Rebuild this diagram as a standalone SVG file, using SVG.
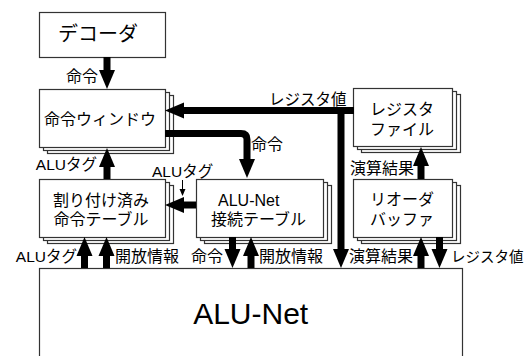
<svg xmlns="http://www.w3.org/2000/svg" width="524" height="356" viewBox="0 0 524 356">
<defs>
<marker id="ah" markerUnits="userSpaceOnUse" markerWidth="20" markerHeight="16" refX="0" refY="8" orient="auto" overflow="visible">
<path d="M0,0 L19,8 L0,16 z" fill="#000"/>
</marker>
<marker id="ahs" markerUnits="userSpaceOnUse" markerWidth="8" markerHeight="8" refX="0" refY="3" orient="auto" overflow="visible">
<path d="M0,0 L7,3 L0,6 z" fill="#000"/>
</marker>
</defs>
<style>
text{font-family:"Liberation Sans","Noto Sans CJK JP",sans-serif;fill:#000}
.box{fill:#fff;stroke:#333;stroke-width:1.2}
.bt{font-size:16px;text-anchor:middle}
.lb{font-size:16px}
.la{font-size:15.5px}
.c{fill:none;stroke:#000;stroke-width:7}
.ca{fill:none;stroke:#000;stroke-width:7;marker-end:url(#ah)}
</style>
<rect width="524" height="356" fill="#fff"/>

<g id="decoder">
<rect class="box" x="39.5" y="12.5" width="126" height="45"/>
<text x="98" y="41" style="font-size:20px;text-anchor:middle">デコーダ</text>
</g>

<g id="cmdwindow">
<rect class="box" x="47.5" y="95.5" width="126" height="58"/>
<rect class="box" x="43.5" y="92.5" width="126" height="58"/>
<rect class="box" x="39.5" y="89.5" width="126" height="58"/>
<text class="bt" x="100" y="124.5">命令ウィンドウ</text>
</g>

<g id="regfile">
<rect class="box" x="361.5" y="94.5" width="99" height="58"/>
<rect class="box" x="357.5" y="91.5" width="99" height="58"/>
<rect class="box" x="353.5" y="88.5" width="99" height="58"/>
<text class="bt" x="402" y="114.5">レジスタ</text>
<text class="bt" x="402" y="134.5">ファイル</text>
</g>

<g id="alloctable">
<rect class="box" x="47.5" y="185.5" width="126" height="58"/>
<rect class="box" x="43.5" y="182.5" width="126" height="58"/>
<rect class="box" x="39.5" y="179.5" width="126" height="58"/>
<text class="bt" x="101" y="205.5">割り付け済み</text>
<text class="bt" x="101" y="224.5">命令テーブル</text>
</g>

<g id="alunettable">
<rect class="box" x="204.5" y="185.5" width="127" height="58"/>
<rect class="box" x="200.5" y="182.5" width="127" height="58"/>
<rect class="box" x="196.5" y="179.5" width="127" height="58"/>
<text x="218" y="205.5" style="font-size:16px">ALU-Net</text>
<text class="bt" x="258.5" y="224.5">接続テーブル</text>
</g>

<g id="reorder">
<rect class="box" x="361.5" y="185.5" width="99" height="58"/>
<rect class="box" x="357.5" y="182.5" width="99" height="58"/>
<rect class="box" x="353.5" y="179.5" width="99" height="58"/>
<text class="bt" x="402" y="204.5">リオーダ</text>
<text class="bt" x="402" y="224.5">バッファ</text>
</g>

<g id="alunet">
<rect class="box" x="39.5" y="268.5" width="423" height="100"/>
<text x="250.7" y="323.5" style="font-size:30px;text-anchor:middle">ALU-Net</text>
</g>

<g id="connectors">
<line class="ca" x1="107" y1="57" x2="107" y2="70"/>
<path class="ca" d="M354,110.5 H184"/>
<path class="ca" d="M341,107 V249"/>
<path class="ca" d="M165,133.5 H241 Q247,133.5 247,139.5 V159" stroke-linejoin="round"/>
<line class="ca" x1="107" y1="179" x2="107" y2="167"/>
<line class="ca" x1="196" y1="205" x2="184" y2="205"/>
<line x1="182.5" y1="180" x2="182.5" y2="189" stroke="#000" stroke-width="1" marker-end="url(#ahs)"/>
<line class="ca" x1="84.5" y1="268" x2="84.5" y2="256"/>
<line class="ca" x1="106.5" y1="268" x2="106.5" y2="256"/>
<line class="ca" x1="232.5" y1="237" x2="232.5" y2="249"/>
<line class="ca" x1="251" y1="268" x2="251" y2="256"/>
<line class="ca" x1="421" y1="179" x2="421" y2="166"/>
<line class="ca" x1="421" y1="268" x2="421" y2="256"/>
<line class="ca" x1="439.5" y1="237" x2="439.5" y2="249"/>
</g>

<g id="labels">
<text class="lb" x="98" y="81.5" text-anchor="end">命令</text>
<text class="la" x="269" y="105">レジスタ値</text>
<text class="lb" x="251" y="149.5">命令</text>
<text class="la" x="97" y="169.5" text-anchor="end">ALUタグ</text>
<text class="la" x="152" y="176.5">ALUタグ</text>
<text class="lb" x="350" y="174">演算結果</text>
<text class="la" x="77" y="262" text-anchor="end">ALUタグ</text>
<text class="lb" x="115" y="262">開放情報</text>
<text class="lb" x="223" y="262" text-anchor="end">命令</text>
<text class="lb" x="259" y="262">開放情報</text>
<text class="lb" x="349" y="262">演算結果</text>
<text class="lb" x="451" y="262" style="font-size:14.5px">レジスタ値</text>
</g>
</svg>
